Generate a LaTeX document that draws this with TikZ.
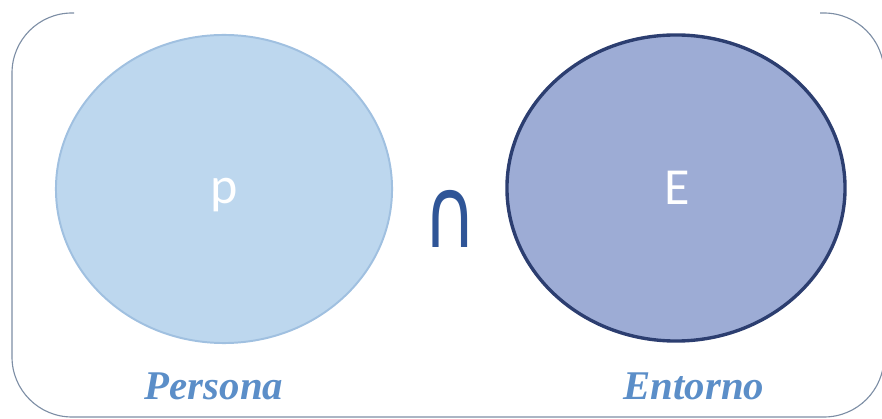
\documentclass[tikz,border=0pt]{standalone}
\usepackage{fontspec}
\usepackage{xcolor}
\usepackage{graphicx}
\usepackage{tikz}
\usetikzlibrary{positioning,shapes.geometric}
\newfontfamily\labelfont{Liberation Serif}
\newfontfamily\letterfont{Carlito}
\newfontfamily\symfont{DejaVu Sans}
\definecolor{persfill}{RGB}{189,215,238}
\definecolor{persline}{RGB}{160,192,224}
\definecolor{entfill}{RGB}{157,172,213}
\definecolor{entline}{RGB}{44,62,112}
\definecolor{capblue}{RGB}{47,85,151}
\definecolor{labelblue}{RGB}{91,142,200}
\definecolor{framegray}{RGB}{125,142,165}
\begin{document}
\begin{tikzpicture}[
  x=0.025cm, y=-0.025cm,
  setbox/.style={ellipse, inner sep=0pt},
  letter/.style={text=white, anchor=base, inner sep=0pt,
                 font=\letterfont\fontsize{37}{37}\selectfont},
  setname/.style={text=labelblue, anchor=base, inner sep=0pt,
                  font=\labelfont\bfseries\itshape\fontsize{29}{29}\selectfont},
  frame/.style={draw=framegray, line width=0.8pt, rounded corners=1.5cm}
]
  \useasboundingbox (0,0) rectangle (882,419);

  % Frame (open along the top)
  \draw[frame] (820,13) -- (884,13) -- (884,417) -- (12,417) -- (12,13) -- (74,13);

  % Sets
  \node[setbox, fill=persfill, draw=persline, line width=1.4pt,
        minimum width=8.4cm, minimum height=7.7cm] (persona) at (224,189) {};
  \node[setbox, fill=entfill, draw=entline, line width=2.4pt,
        minimum width=8.45cm, minimum height=7.65cm] (entorno) at (676,188) {};

  \node[letter] (p) at (224,204) {p};
  \node[letter] (E) at (677,205) {E};

  % Intersection sign
  \node[text=capblue, anchor=base, inner sep=0pt,
        font=\symfont\fontsize{52}{52}\selectfont] (cap) at (450,248)
        {\scalebox{1}[1.35]{∩}};

  % Labels
  \node[setname] (lpersona) at (214,400) {Persona};
  \node[setname] (lentorno) at (694,400) {Entorno};
\end{tikzpicture}
\end{document}
